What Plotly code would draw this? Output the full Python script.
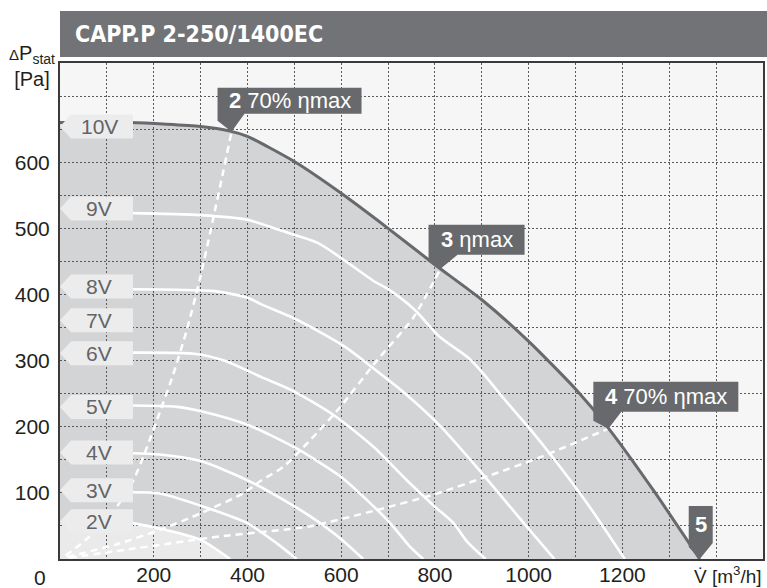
import plotly.graph_objects as go

FONT = "Liberation Sans, Arial, Helvetica, sans-serif"
TITLE_FONT = "DejaVu Sans Condensed, Liberation Sans, sans-serif"

title_text = "CAPP.P 2-250/1400EC"

x_tick_vals = [200, 400, 600, 800, 1000, 1200]
y_tick_vals = [100, 200, 300, 400, 500, 600]
x_range = [0, 1500]
y_range = [0, 750]

# 10V = maximum characteristic
v_10V = [0, 150, 300, 363, 400, 500, 600, 700, 800, 900, 1000, 1100, 1170, 1266, 1365]
p_10V = [660, 660, 654, 647, 639, 601, 553, 500, 445, 392, 329, 257, 198, 104, 0]

v_9V = [150, 300, 400, 470, 550, 610, 670, 700, 755, 810, 870, 900, 950, 1000, 1050, 1125, 1205]
p_9V = [523, 520, 513, 497, 478, 450, 420, 408, 378, 336, 305, 283, 240, 199, 155, 84, 0]

v_8V = [150, 330, 400, 430, 490, 550, 610, 680, 730, 810, 900, 990, 1055]
p_8V = [408, 405, 395, 385, 367, 345, 320, 282, 254, 202, 130, 54, 0]

v_6V = [150, 290, 350, 430, 495, 585, 670, 740, 800, 840, 870, 908]
p_6V = [312, 310, 300, 275, 255, 217, 169, 119, 79, 54, 25, 0]

v_5V = [150, 250, 310, 400, 500, 600, 655, 705, 745, 775]
p_5V = [232, 230, 222, 203, 169, 124, 89, 54, 20, 0]

v_4V = [150, 213, 300, 400, 485, 535, 600, 647]
p_4V = [160, 158, 148, 119, 86, 64, 30, 0]

v_3V = [150, 213, 327, 400, 462, 505]
p_3V = [101, 99, 74, 54, 24, 0]

v_2V = [150, 213, 300, 363]
p_2V = [55, 46, 29, 0]

voltage_names = ["10V", "9V", "8V", "7V", "6V", "5V", "4V", "3V", "2V"]
voltage_label_p = [654, 530, 412, 361, 311, 230, 161, 104, 57]

# efficiency lines (dashed)
v_eff2 = [12, 57, 114, 156, 185, 213, 241, 270, 299, 327, 348, 366]
p_eff2 = [5, 30, 72, 118, 168, 222, 278, 345, 425, 515, 585, 646]

v_eff3 = [15, 120, 213, 300, 390, 430, 476, 533, 597, 676, 754, 812]
p_eff3 = [3, 22, 44, 69, 99, 119, 139, 179, 229, 300, 365, 439]

v_eff4 = [20, 140, 340, 530, 676, 800, 920, 1025, 1170]
p_eff4 = [2, 14, 34, 49, 74, 98, 127, 154, 197]

point_texts = ["<b>2</b> 70% ηmax", "<b>3</b> ηmax", "<b>4</b> 70% ηmax", "<b>5</b>"]

# colours
C_OUT = "#f6f6f6"
C_FILL = "#d3d4d6"
C_LIGHT = "#eaeaeb"
C_DARK = "#68696c"
C_LABEL = "#ececed"
C_LABEL_TXT = "#636467"
C_TITLE = "#727376"
C_GRID = "#5a5a5a"
C_TXT = "#231f20"

fig = go.Figure()

# white voltage curves
for vv, pp in [(v_9V, p_9V), (v_8V, p_8V), (v_6V, p_6V), (v_5V, p_5V),
               (v_4V, p_4V), (v_3V, p_3V), (v_2V, p_2V)]:
    fig.add_trace(go.Scatter(x=vv, y=pp, mode="lines",
                             line=dict(color="white", width=2.6, shape="spline", smoothing=0.7),
                             hoverinfo="skip", showlegend=False))

# dashed efficiency lines
for vv, pp in [(v_eff2, p_eff2), (v_eff3, p_eff3), (v_eff4, p_eff4)]:
    fig.add_trace(go.Scatter(x=vv, y=pp, mode="lines",
                             line=dict(color="white", width=2.5, dash="7px,5px",
                                       shape="spline", smoothing=0.6),
                             hoverinfo="skip", showlegend=False))

# max curve
fig.add_trace(go.Scatter(x=v_10V, y=p_10V, mode="lines",
                         line=dict(color=C_DARK, width=3, shape="spline", smoothing=0.6),
                         hoverinfo="skip", showlegend=False))

shapes = []
# fill of working area (below gridlines)
path_fill = "M " + " L ".join(f"{v},{p}" for v, p in zip(v_10V, p_10V)) + f" L {v_10V[-1]},0 L 0,0 Z"
shapes.append(dict(type="path", xref="x", yref="y", path=path_fill, fillcolor=C_FILL,
                   line=dict(width=0), layer="below"))
path_light = f"M 0,{p_2V[0]} L " + " L ".join(f"{v},{p}" for v, p in zip(v_2V, p_2V)) + " L 0,0 Z"
shapes.append(dict(type="path", xref="x", yref="y", path=path_light, fillcolor=C_LIGHT,
                   line=dict(width=0), layer="below"))

# title bar
shapes.append(dict(type="rect", xref="paper", yref="paper", xsizemode="pixel", ysizemode="pixel",
                   xanchor=0, yanchor=1, x0=0, x1=707, y0=6, y1=52,
                   fillcolor=C_TITLE, line=dict(width=0), layer="above"))

annotations = []
# voltage labels
for name, pv in zip(voltage_names, voltage_label_p):
    shapes.append(dict(type="path", xref="x", yref="y", xsizemode="pixel", ysizemode="pixel",
                       xanchor=0, yanchor=pv,
                       path="M 0,0 L 11,12 L 73,12 L 73,-12 L 11,-12 Z",
                       fillcolor=C_LABEL, line=dict(width=0), layer="above"))
    annotations.append(dict(x=0, y=pv, xref="x", yref="y", text=name, showarrow=False,
                            xanchor="center", yanchor="middle", xshift=39, yshift=0,
                            font=dict(family=FONT, size=21, color=C_LABEL_TXT)))

# operating point labels anchored on the characteristic
tips = [(v_eff2[-1], p_eff2[-1]), (v_eff3[-1], p_eff3[-1]), (v_eff4[-1], p_eff4[-1]), (v_10V[-1], 0)]
# box geometry in pixels: left, right, bottom, top, notch-right, notch-left-drop
boxes = [(-14, 130, 18, 44, 13, 11), (-12, 84, 14, 44, 17, 7), (-15, 130, 17, 47, 13, 8), (-11, 13, 16, 53, 13, 12)]
for (tv, tp), (l, r, b, t, nr, nl), txt in zip(tips, boxes, point_texts):
    path = f"M {l},{t} L {r},{t} L {r},{b} L {nr},{b} L 0,0 L {l},{nl} Z"
    shapes.append(dict(type="path", xref="x", yref="y", xsizemode="pixel", ysizemode="pixel",
                       xanchor=tv, yanchor=tp, path=path, fillcolor=C_DARK,
                       line=dict(width=0), layer="above"))
    annotations.append(dict(x=tv, y=tp, xref="x", yref="y", text=txt, showarrow=False,
                            xanchor="center", yanchor="middle",
                            xshift=(l + r) / 2, yshift=(b + t) / 2,
                            font=dict(family=FONT, size=22, color="white")))

# title
annotations.append(dict(x=0, y=1, xref="paper", yref="paper", text=f"<b>{title_text}</b>",
                        showarrow=False, xanchor="left", yanchor="middle", xshift=13, yshift=29,
                        font=dict(family=TITLE_FONT, size=23, color="white")))
# axis titles
annotations.append(dict(x=0, y=1, xref="paper", yref="paper",
                        text="<span style='font-size:15px'>Δ</span>P<sub>stat</sub><br>[Pa]",
                        showarrow=False, xanchor="center", yanchor="middle", xshift=-28, yshift=-3,
                        font=dict(family=FONT, size=20, color=C_TXT)))
annotations.append(dict(x=1500, y=0, xref="x", yref="y", text="V̇ [m<sup>3</sup>/h]",
                        showarrow=False, xanchor="right", yanchor="middle", xshift=1, yshift=-16,
                        font=dict(family=FONT, size=19, color=C_TXT)))
annotations.append(dict(x=0, y=0, xref="x", yref="y", text="0",
                        showarrow=False, xanchor="center", yanchor="middle", xshift=-20, yshift=-18,
                        font=dict(family=FONT, size=21, color=C_TXT)))

fig.update_layout(
    width=767, height=588,
    margin=dict(l=60, r=4, t=63, b=29, autoexpand=False),
    paper_bgcolor="white", plot_bgcolor=C_OUT,
    shapes=shapes, annotations=annotations,
    font=dict(family=FONT, size=21, color=C_TXT),
    showlegend=False,
)
grid_common = dict(showgrid=True, gridcolor=C_GRID, gridwidth=1, griddash="2px,2px",
                   showline=True, mirror=True, linecolor="#3a3a3c", linewidth=2,
                   ticks="", zeroline=False, fixedrange=True, automargin=False,
                   tickfont=dict(family=FONT, size=21, color=C_TXT))
fig.update_xaxes(range=x_range, tickmode="array", tickvals=x_tick_vals,
                 ticktext=[str(v) for v in x_tick_vals], ticklabelstandoff=-4,
                 minor=dict(tickmode="linear", tick0=0, dtick=100, showgrid=True,
                            gridcolor=C_GRID, gridwidth=1, griddash="2px,2px", ticks=""),
                 **grid_common)
fig.update_yaxes(range=y_range, tickmode="array", tickvals=y_tick_vals,
                 ticktext=[str(v) for v in y_tick_vals], ticklabelstandoff=4,
                 minor=dict(tickmode="linear", tick0=0, dtick=50, showgrid=True,
                            gridcolor=C_GRID, gridwidth=1, griddash="2px,2px", ticks=""),
                 **grid_common)

fig.write_html("out.html", config={"displayModeBar": False, "staticPlot": True},
               post_script="document.body.style.margin='0';document.body.style.overflow='hidden';")
